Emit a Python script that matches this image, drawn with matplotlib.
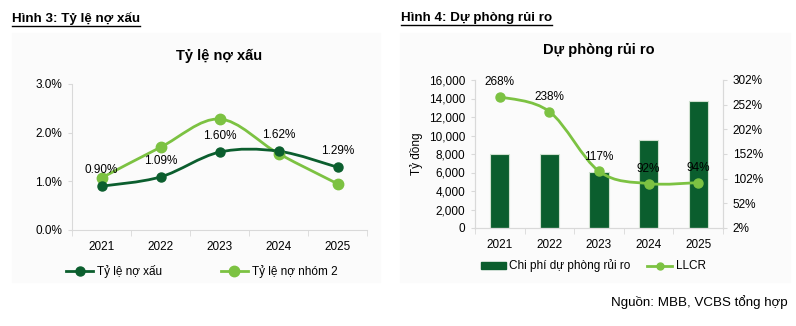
import numpy as np
import matplotlib.pyplot as plt
from matplotlib.path import Path
from matplotlib.patches import PathPatch, Rectangle
from matplotlib.lines import Line2D

plt.rcParams['font.family'] = ['Liberation Sans', 'DejaVu Sans']

# du lieu
years = ['2021', '2022', '2023', '2024', '2025']
no_xau = [0.90, 1.09, 1.60, 1.62, 1.29]
no_nhom2 = [1.07, 1.70, 2.28, 1.57, 0.95]
no_xau_labels = ['0.90%', '1.09%', '1.60%', '1.62%', '1.29%']

chi_phi_du_phong = [8000, 8000, 6100, 9500, 13700]
llcr = [268, 238, 117, 92, 94]
llcr_labels = ['268%', '238%', '117%', '92%', '94%']

DARK = '#0b5e2e'
LIGHT = '#7cc242'
GRID = '#d9d9d9'
W, H = 796, 326


def smooth_line(ax, xs, ys, color, lw):
    # duong cong kieu Excel (Catmull-Rom -> Bezier)
    P = np.column_stack([xs, ys]).astype(float)
    verts = [P[0]]
    codes = [Path.MOVETO]
    n = len(P)
    for i in range(n - 1):
        p0 = P[i - 1] if i > 0 else P[i]
        p1, p2 = P[i], P[i + 1]
        p3 = P[i + 2] if i + 2 < n else P[i + 1]
        verts += [p1 + (p2 - p0) / 6, p2 - (p3 - p1) / 6, p2]
        codes += [Path.CURVE4] * 3
    ax.add_patch(PathPatch(Path(verts, codes), fill=False, edgecolor=color,
                           lw=lw, capstyle='round', joinstyle='round'))


def px(x0, y0, x1, y1):
    return [x0 / W, 1 - y1 / H, (x1 - x0) / W, (y1 - y0) / H]


fig = plt.figure(figsize=(W / 100, H / 100), dpi=100)

# nen xam rat nhat
fig.patches.append(Rectangle((12 / W, 1 - 282 / H), 368 / W, 249 / H,
                             transform=fig.transFigure, color='#fbfbfb', zorder=-5))
fig.patches.append(Rectangle((400 / W, 1 - 282 / H), 390 / W, 249 / H,
                             transform=fig.transFigure, color='#fbfbfb', zorder=-5))

x = np.arange(len(years))

# ---------- Hinh 3 ----------
ax1 = fig.add_axes(px(72, 84, 367, 230))
ax1.set_facecolor('none')
smooth_line(ax1, x, no_nhom2, LIGHT, 2.0)
smooth_line(ax1, x, no_xau, DARK, 2.0)
ax1.plot(x, no_nhom2, 'o', color=LIGHT, ms=7.5, zorder=3)
ax1.plot(x, no_xau, 'o', color=DARK, ms=6.5, zorder=4)
for xi, yi, lab in zip(x, no_xau, no_xau_labels):
    ax1.annotate(lab, (xi, yi), xytext=(0, 7), textcoords='offset points',
                 ha='center', va='bottom', fontsize=8.5, zorder=5)
ax1.set_xlim(-0.5, 4.5)
ax1.set_ylim(0, 3)
ax1.set_yticks([0, 1, 2, 3])
ax1.set_yticklabels(['0.0%', '1.0%', '2.0%', '3.0%'])
ax1.set_title('Tỷ lệ nợ xấu', fontsize=10.5, fontweight='bold', pad=17)

# ---------- Hinh 4 ----------
ax2 = fig.add_axes(px(475, 80, 723, 228))
ax2.set_facecolor('none')
ax2.bar(x, chi_phi_du_phong, width=0.39, color=DARK, edgecolor='#cfe0cf', lw=0.8)
ax2.set_xlim(-0.5, 4.5)
ax2.set_ylim(0, 16000)
ax2.set_yticks(range(0, 16001, 2000))
ax2.set_yticklabels([f'{v:,}' for v in range(0, 16001, 2000)])
ax2.set_ylabel('Tỷ đồng', fontsize=8.5, labelpad=4)
ax2.set_title('Dự phòng rủi ro', fontsize=10.5, fontweight='bold', pad=19)

ax3 = ax2.twinx()
smooth_line(ax3, x, llcr, LIGHT, 2.0)
ax3.plot(x, llcr, 'o', color=LIGHT, ms=6.5, zorder=4)
for xi, yi, lab in zip(x, llcr, llcr_labels):
    ax3.annotate(lab, (xi, yi), xytext=(0, 6), textcoords='offset points',
                 ha='center', va='bottom', fontsize=8.5, zorder=5)
ax3.set_ylim(2, 302)
ax3.set_yticks(range(2, 303, 50))
ax3.set_yticklabels([f'{v}%' for v in range(2, 303, 50)])

for ax in (ax1, ax2, ax3):
    for s in ax.spines.values():
        s.set_color(GRID)
    ax.spines['top'].set_visible(False)
    ax.tick_params(axis='y', labelsize=8.5, length=3, color=GRID, pad=4)
ax1.spines['right'].set_visible(False)
for ax in (ax1, ax2):
    ax.set_xticks(x)
    ax.set_xticklabels(years)
    ax.set_xticks(np.arange(-0.5, 5, 1), minor=True)
    ax.tick_params(axis='x', which='major', length=0, labelsize=8.5, pad=8)
    ax.tick_params(axis='x', which='minor', length=4, color=GRID)

# legends
h1 = Line2D([], [], color=DARK, lw=2, marker='o', ms=6.5)
h2 = Line2D([], [], color=LIGHT, lw=2, marker='o', ms=7.5)
fig.legend([h1, h2], ['Tỷ lệ nợ xấu', 'Tỷ lệ nợ nhóm 2'], loc='center left',
           bbox_to_anchor=(66 / W, 1 - 272 / H), ncol=2, frameon=False,
           fontsize=8.5, handlelength=2.3, handletextpad=0.3, columnspacing=5.0,
           borderpad=0, borderaxespad=0)
h3 = Rectangle((0, 0), 1, 1, color=DARK)
h4 = Line2D([], [], color=LIGHT, lw=2, marker='o', ms=5)
fig.legend([h3, h4], ['Chi phí dự phòng rủi ro', 'LLCR'], loc='center left',
           bbox_to_anchor=(481 / W, 1 - 266 / H), ncol=2, frameon=False,
           fontsize=8.5, handlelength=2.1, handleheight=0.5, handletextpad=0.3,
           columnspacing=1.4, borderpad=0, borderaxespad=0)

# tieu de hinh (gach chan)
t1 = fig.text(12 / W, 1 - 18 / H, 'Hình 3: Tỷ lệ nợ xấu', fontsize=9.6,
              fontweight='bold', va='center')
t2 = fig.text(401 / W, 1 - 18 / H, 'Hình 4: Dự phòng rủi ro', fontsize=9.6,
              fontweight='bold', va='center')
fig.text(788 / W, 1 - 302 / H, 'Nguồn: MBB, VCBS tổng hợp', fontsize=9.6,
         ha='right', va='center')

fig.canvas.draw()
r = fig.canvas.get_renderer()
for t in (t1, t2):
    bb = t.get_window_extent(r).transformed(fig.transFigure.inverted())
    fig.lines.append(Line2D([bb.x0, bb.x1], [bb.y0 - 1.0 / H, bb.y0 - 1.0 / H],
                            transform=fig.transFigure, color='black', lw=1))

fig.savefig('out.png', dpi=100)
